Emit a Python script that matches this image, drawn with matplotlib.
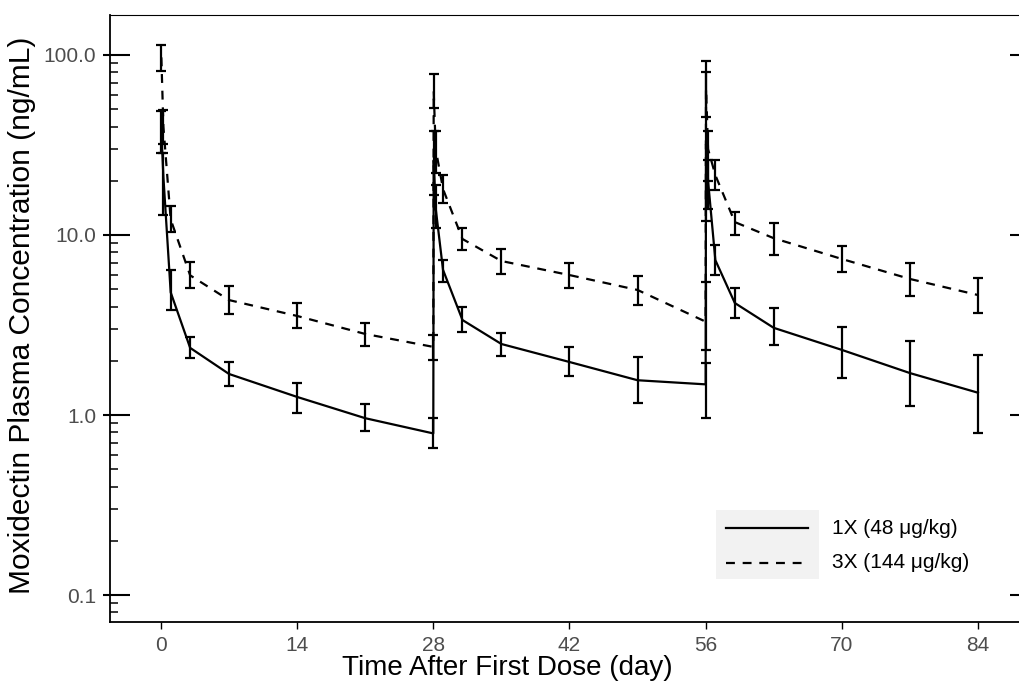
import matplotlib
matplotlib.use('Agg')
import matplotlib.pyplot as plt
from matplotlib.patches import Rectangle
from matplotlib.lines import Line2D
from matplotlib.ticker import FixedLocator, LogLocator, NullFormatter
import numpy as np

# sampling days (nominal) for both dose groups
days = [0.04, 0.25, 1, 3, 7, 14, 21, 28,
        28.04, 28.25, 29, 31, 35, 42, 49, 56,
        56.04, 56.25, 57, 59, 63, 70, 77, 84]

# 1X (48 ug/kg): mean and error bar limits (ng/mL)
conc_1x = [38, 21, 4.8, 2.36, 1.69, 1.26, 0.96, 0.79,
           26, 14, 6.4, 3.37, 2.48, 1.97, 1.56, 1.48,
           32, 20, 7.25, 4.19, 3.05, 2.3, 1.71, 1.33]
lo_1x = [28.5, 12.9, 3.83, 2.07, 1.45, 1.03, 0.815, 0.656,
         16.7, 11, 5.5, 2.9, 2.13, 1.65, 1.17, 0.96,
         12, 14, 6.0, 3.46, 2.45, 1.6, 1.12, 0.79]
hi_1x = [49, 28.5, 6.4, 2.71, 1.97, 1.5, 1.15, 0.96,
         37.6, 19, 7.3, 4.0, 2.85, 2.39, 2.1, 1.94,
         93, 26, 8.8, 5.07, 3.93, 3.1, 2.58, 2.15]

# 3X (144 ug/kg)
conc_3x = [97, 40, 12.2, 5.97, 4.35, 3.55, 2.82, 2.39,
           63, 30, 18, 9.5, 7.17, 5.99, 4.95, 3.3,
           65, 30, 21.5, 11.8, 9.6, 7.36, 5.7, 4.64]
lo_3x = [82, 32, 10.4, 5.05, 3.64, 3.04, 2.42, 2.02,
         51, 22, 15, 8.25, 6.1, 5.1, 4.1, 2.3,
         45, 20, 17.8, 10.0, 7.7, 6.2, 4.6, 3.7]
hi_3x = [114, 49.3, 14.5, 7.1, 5.2, 4.19, 3.24, 2.78,
         78.5, 37.6, 21.5, 10.9, 8.4, 7.0, 5.9, 5.5,
         80, 38, 26, 13.5, 11.6, 8.7, 7.0, 5.8]

x_ticks = [0, 14, 28, 42, 56, 70, 84]
y_ticks = [0.1, 1, 10, 100]
y_labels = ['0.1', '1.0', '10.0', '100.0']

W, H = 1019, 685
fig = plt.figure(figsize=(W / 100, H / 100), dpi=100)
ax = fig.add_axes([110 / W, 1 - 622 / H, 920 / W, 607 / H])

d = np.array(days)
for conc, lo, hi, ls in [(conc_1x, lo_1x, hi_1x, '-'), (conc_3x, lo_3x, hi_3x, '--')]:
    c = np.array(conc)
    yerr = [c - np.array(lo), np.array(hi) - c]
    ax.errorbar(d, c, yerr=yerr, fmt='none', ecolor='black', elinewidth=1.6,
                capsize=3.4, capthick=1.6, zorder=3)
    line, = ax.plot(d, c, color='black', lw=1.6, ls=ls, zorder=4)
    if ls == '--':
        line.set_dashes((4, 3.5))

ax.set_yscale('log')
ax.set_xlim(-5.24, 89.35)
ax.set_ylim(0.0708, 166.8)

ax.xaxis.set_major_locator(FixedLocator(x_ticks))
ax.set_xticklabels([str(t) for t in x_ticks])
ax.yaxis.set_major_locator(FixedLocator(y_ticks))
ax.set_yticklabels(y_labels)
ax.yaxis.set_minor_locator(LogLocator(base=10, subs=np.arange(2, 10)))
ax.yaxis.set_minor_formatter(NullFormatter())

ax.tick_params(axis='x', direction='out', length=5, width=1, pad=5,
               labelsize=15, labelcolor='#4d4d4d')
ax.tick_params(axis='y', which='major', direction='in', length=14.5, width=1.5,
               right=True, pad=10, labelsize=15, labelcolor='#4d4d4d')
ax.tick_params(axis='y', which='minor', direction='in', length=6, width=1.1, right=True)
for lab in ax.get_xticklabels():
    lab.set_family(['Liberation Sans Narrow', 'Liberation Sans'])
for lab in ax.get_yticklabels():
    lab.set_family(['Liberation Sans', 'DejaVu Sans'])

# short outward stubs of the major y ticks
sec = ax.secondary_yaxis('left')
sec.yaxis.set_major_locator(FixedLocator(y_ticks))
sec.yaxis.set_minor_locator(FixedLocator([]))
sec.tick_params(axis='y', direction='out', length=5, width=1.5, labelleft=False)
sec.spines['left'].set_visible(False)

for s in ['left', 'bottom']:
    ax.spines[s].set_linewidth(1.3)
for s in ['top', 'right']:
    ax.spines[s].set_linewidth(0.8)

fig.text(22 / W, 1 - 315 / H, 'Moxidectin Plasma Concentration (ng/mL)', rotation=90,
         ha='center', va='center', fontsize=21.5, family=['Liberation Sans', 'DejaVu Sans'])
fig.text(507 / W, 1 - 668 / H, 'Time After First Dose (day)',
         ha='center', va='center', fontsize=20, family=['Liberation Sans', 'DejaVu Sans'])

# legend: grey key background, keys and labels
fig.patches.append(Rectangle((716 / W, 1 - 579 / H), 103 / W, 69 / H,
                             transform=fig.transFigure, facecolor='#f2f2f2',
                             edgecolor='none', zorder=1))
for yy, ls, lab in [(528, '-', '1X (48 μg/kg)'), (563, '--', '3X (144 μg/kg)')]:
    ln = Line2D([726 / W, 808 / W], [1 - yy / H, 1 - yy / H], transform=fig.transFigure,
                color='black', lw=1.6, ls=ls, zorder=2)
    if ls == '--':
        ln.set_dashes((4, 3.5))
    fig.lines.append(ln)
    fig.text(832 / W, 1 - yy / H, lab, ha='left', va='center', fontsize=15,
             family=['Liberation Sans', 'DejaVu Sans'])

fig.savefig('out.png', dpi=100)
